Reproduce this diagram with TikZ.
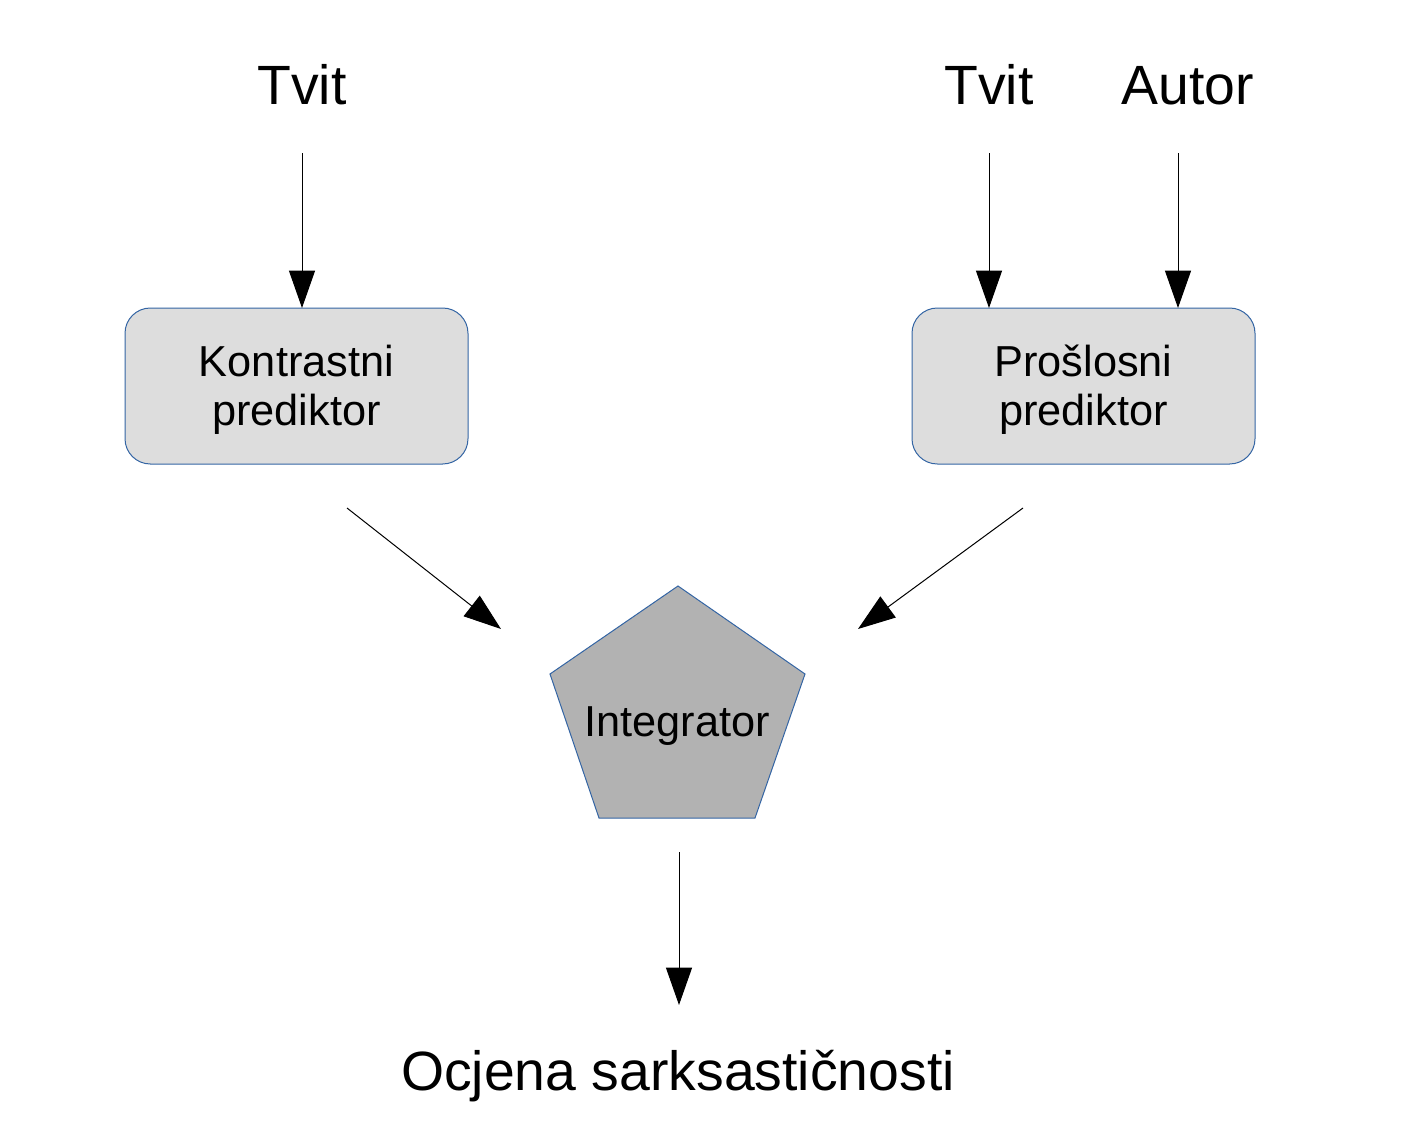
\documentclass[tikz,border=0pt]{standalone}
\usepackage{fontspec}
\setmainfont{Liberation Sans}
\usetikzlibrary{arrows.meta}
\definecolor{boxfill}{HTML}{DDDDDD}
\definecolor{pentfill}{HTML}{B2B2B2}
\definecolor{edgeblue}{HTML}{3465A4}
\newcommand{\boxtext}[2]{\raisebox{-4pt}[\height][\depth]{\begin{tabular}{@{}c@{}}#1\\#2\end{tabular}}}
\tikzset{
  bigtext/.style={font=\fontsize{41.5}{47}\selectfont, inner sep=0pt, anchor=base},
  predbox/.style={draw=edgeblue, line width=0.75pt, fill=boxfill, rounded corners=19pt,
    minimum width=257.25pt, minimum height=117pt,
    font=\fontsize{32.5}{36.9}\selectfont, inner sep=0pt},
  flow/.style={line width=0.75pt, -{Triangle[length=28pt,width=19.5pt]}},
}
\begin{document}
\begin{tikzpicture}[x=0.75pt,y=-0.75pt]
\useasboundingbox (0,0) rectangle (1407,1128);
% top labels
\node[bigtext] (tvitL) at (302,104) {Tvit};
\node[bigtext] (tvitR) at (989,104) {Tvit};
\node[bigtext] (autor) at (1188,104) {Autor};
% boxes
\node[predbox] (kontr) at (296.5,386) {\boxtext{Kontrastni}{prediktor}};
\node[predbox] (prosl) at (1083.5,386) {\boxtext{Prošlosni}{prediktor}};
% pentagon
\draw[draw=edgeblue, line width=0.75pt, fill=pentfill]
  (678,586) -- (805,674) -- (755,818) -- (599,818) -- (550,674) -- cycle;
\node[font=\fontsize{32.5}{36.9}\selectfont, inner sep=0pt] (integ) at (677,726) {Integrator};
% output
\node[bigtext] (ocjena) at (678,1090) {Ocjena sarksastičnosti};
% connector endpoints
\coordinate (a1s) at (302,153);
\coordinate (a1e) at (302,308);
\coordinate (a2s) at (989,153);
\coordinate (a2e) at (989,308);
\coordinate (a3s) at (1178,153);
\coordinate (a3e) at (1178,308);
\coordinate (d1s) at (347,508);
\coordinate (d1e) at (501,629);
\coordinate (d2s) at (1023,508);
\coordinate (d2e) at (858,629);
\coordinate (o1s) at (679,852);
\coordinate (o1e) at (679,1005);
\draw[flow] (a1s) -- (a1e);
\draw[flow] (a2s) -- (a2e);
\draw[flow] (a3s) -- (a3e);
\draw[flow] (d1s) -- (d1e);
\draw[flow] (d2s) -- (d2e);
\draw[flow] (o1s) -- (o1e);
\end{tikzpicture}
\end{document}
